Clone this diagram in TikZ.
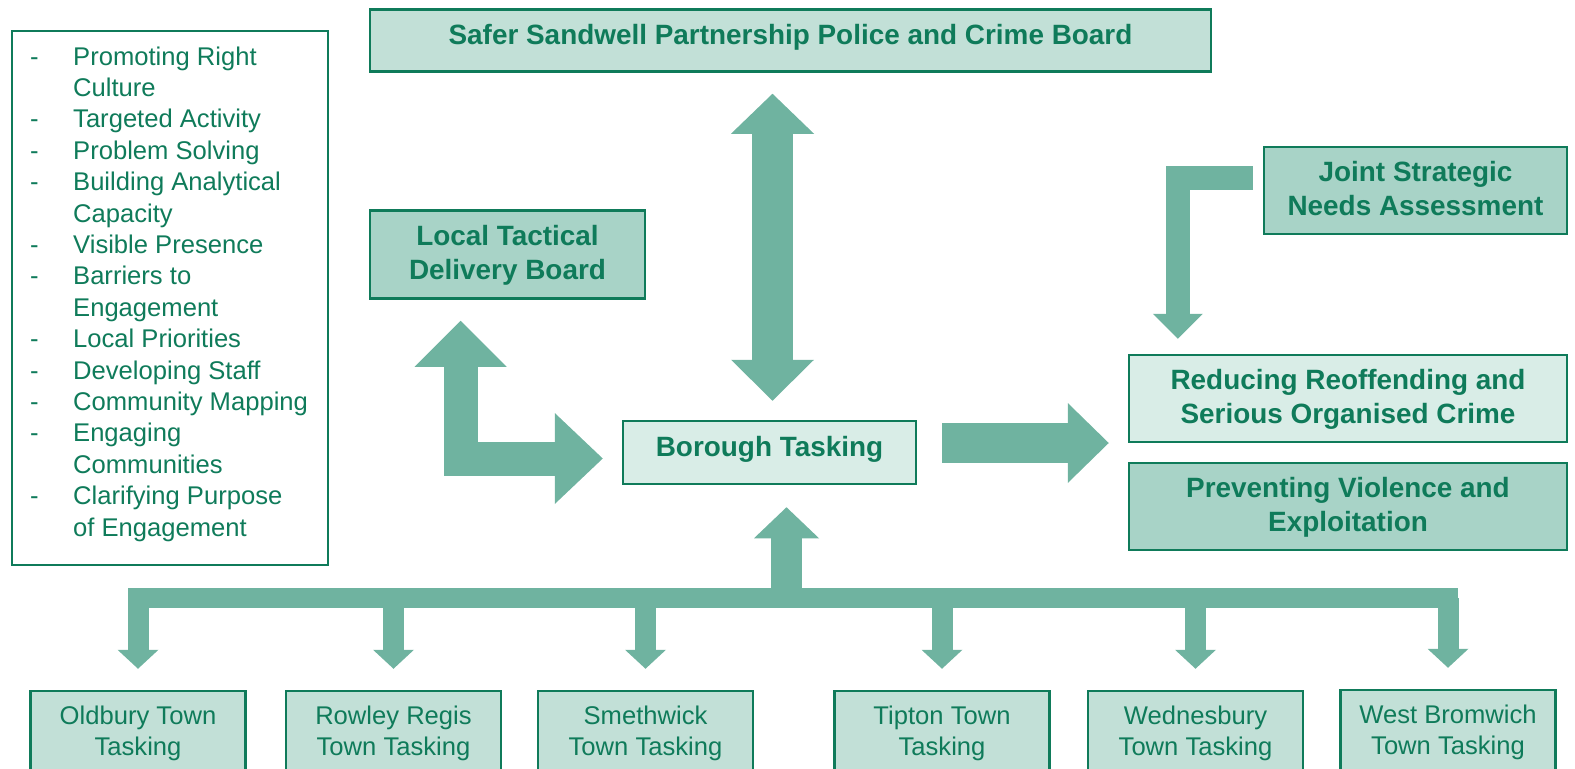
\documentclass[tikz,border=0pt]{standalone}
\usepackage{fontspec}
\setmainfont{Liberation Sans}
\usetikzlibrary{arrows.meta,calc}
\definecolor{dgreen}{HTML}{0F7B5A}
\definecolor{arrowc}{HTML}{6FB3A0}
\definecolor{fillA}{HTML}{C2E0D7}
\definecolor{fillB}{HTML}{D9EDE7}
\definecolor{fillC}{HTML}{A8D3C7}
\begin{document}
\begin{tikzpicture}[x=1bp,y=-1bp,
  box/.style={draw=dgreen, line width=2.5bp, text=dgreen, align=center, inner sep=0pt,
    font=\bfseries\fontsize{27.9bp}{33.5bp}\selectfont},
  twoline/.style={text depth=4bp},
  oneline/.style={text depth=12bp},
  town/.style={draw=dgreen, line width=2.5bp, fill=fillA, text=dgreen, align=center, inner sep=0pt,
    minimum width=215bp, minimum height=84bp, text depth=4bp, font=\fontsize{25.6bp}{31bp}\selectfont},
  blk/.style={draw=arrowc, line join=miter},
]
\useasboundingbox (0,0) rectangle (1575,769);
\clip (0,0) rectangle (1575,769);

% list box
\node[draw=dgreen, line width=2bp, minimum width=316bp, minimum height=534bp, inner sep=0pt] (listbox) at (170,298) {};
\node[anchor=north west, inner sep=0pt, text=dgreen, font=\fontsize{25.6bp}{31.4bp}\selectfont] (listtext) at (30,43) {%
\renewcommand{\arraystretch}{1}%
\begin{tabular}{@{}p{43bp}@{}l@{}}
-&Promoting Right\\
&Culture\\
-&Targeted Activity\\
-&Problem Solving\\
-&Building Analytical\\
&Capacity\\
-&Visible Presence\\
-&Barriers to\\
&Engagement\\
-&Local Priorities\\
-&Developing Staff\\
-&Community Mapping\\
-&Engaging\\
&Communities\\
-&Clarifying Purpose\\
&of Engagement
\end{tabular}};

% main boxes
\node[box, oneline, fill=fillA, minimum width=841bp, minimum height=62bp] (top) at (790.5,40.5) {Safer Sandwell Partnership Police and Crime Board};
\node[box, twoline, fill=fillC, minimum width=275bp, minimum height=88bp] (ltdb) at (507.5,254.5) {Local Tactical\\Delivery Board};
\node[box, twoline, fill=fillC, minimum width=303bp, minimum height=87bp] (jsna) at (1415.5,190.5) {Joint Strategic\\Needs Assessment};
\node[box, twoline, fill=fillB, minimum width=438bp, minimum height=87bp] (reduce) at (1348,398.5) {Reducing Reoffending and\\Serious Organised Crime};
\node[box, twoline, fill=fillC, minimum width=438bp, minimum height=87bp] (prevent) at (1348,506.5) {Preventing Violence and\\Exploitation};
\node[box, oneline, fill=fillB, minimum width=293bp, minimum height=63bp] (borough) at (769.5,452.5) {Borough Tasking};

% town boxes
\node[town] (oldbury) at (138,733) {Oldbury Town\\Tasking};
\node[town] (rowley) at (393.5,733) {Rowley Regis\\Town Tasking};
\node[town] (smeth) at (645.5,733) {Smethwick\\Town Tasking};
\node[town] (tipton) at (942,733) {Tipton Town\\Tasking};
\node[town] (wednes) at (1195.5,733) {Wednesbury\\Town Tasking};
\node[town] (westb) at (1448,732) {West Bromwich\\Town Tasking};

% block arrows
\draw[blk, line width=41bp,
  {Triangle[width=83bp,length=40bp,line width=0pt]}-{Triangle[width=83bp,length=41bp,line width=0pt]},
  shorten <=21bp, shorten >=19bp]
  ([xshift=3bp]borough.north |- top.south) -- ([xshift=3bp]borough.north);

\draw[blk, line width=34bp,
  {Triangle[width=92bp,length=46bp,line width=0pt]}-{Triangle[width=91bp,length=48bp,line width=0pt]},
  shorten <=21bp, shorten >=19bp]
  ([xshift=-47bp]ltdb.south) |- ([yshift=-6bp]borough.west);

\draw[blk, line width=40bp, -{Triangle[width=80bp,length=41bp,line width=0pt]},
  shorten <=25bp, shorten >=19bp]
  ([yshift=9.5bp]borough.east) -- ([yshift=9.5bp]borough.east -| reduce.west);

\draw[blk, line width=24bp, -{Triangle[width=50bp,length=25bp,line width=0pt]},
  shorten <=10bp, shorten >=15bp]
  ([yshift=12.5bp]jsna.west) -| ([xshift=50bp]reduce.north west);

\coordinate (hub) at (786.5,598);
\draw[blk, line width=20bp, line cap=rect] (oldbury.north |- hub) -- (westb.north |- hub);
\draw[blk, line width=31bp, -{Triangle[width=65bp,length=31bp,line width=0pt]}, shorten >=22bp]
  (hub) -- (hub |- borough.south);
\foreach \t in {oldbury,rowley,smeth,tipton,wednes,westb}{
  \draw[blk, line width=21bp, -{Triangle[width=41bp,length=19bp,line width=0pt]}, shorten >=21bp]
    (\t.north |- hub) -- (\t.north);
}
\end{tikzpicture}
\end{document}
